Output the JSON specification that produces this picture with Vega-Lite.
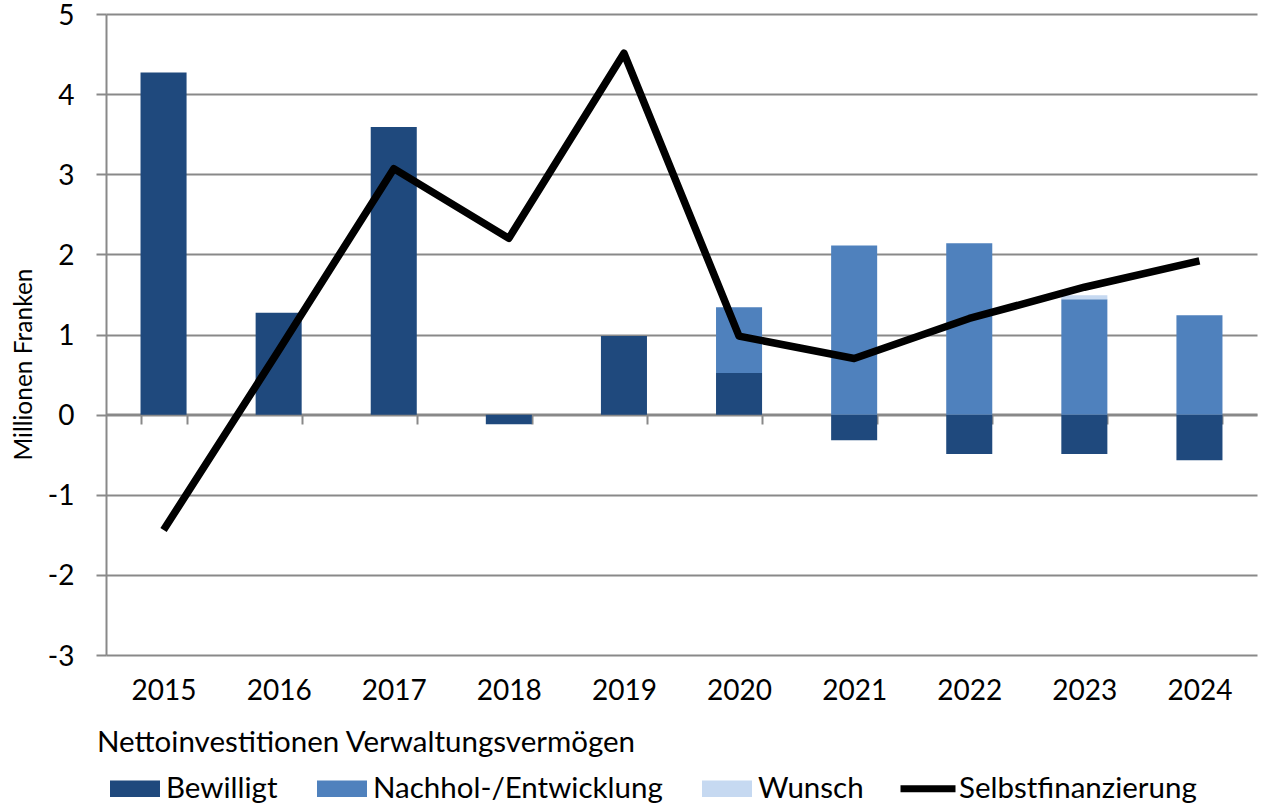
{
  "$schema": "https://vega.github.io/schema/vega-lite/v6.json",
  "width": 1151,
  "height": 641,
  "autosize": {"type": "none"},
  "padding": {"left": 106, "top": 14, "right": 17, "bottom": 152},
  "background": "white",
  "config": {"font": "Lato", "view": {"stroke": null}},
  "data": {
    "values": [
      {"year": "2015", "series": "Bewilligt", "value": 4.27},
      {"year": "2016", "series": "Bewilligt", "value": 1.27},
      {"year": "2017", "series": "Bewilligt", "value": 3.59},
      {"year": "2018", "series": "Bewilligt", "value": -0.12},
      {"year": "2019", "series": "Bewilligt", "value": 0.98},
      {"year": "2020", "series": "Bewilligt", "value": 0.52},
      {"year": "2021", "series": "Bewilligt", "value": -0.32},
      {"year": "2022", "series": "Bewilligt", "value": -0.49},
      {"year": "2023", "series": "Bewilligt", "value": -0.49},
      {"year": "2024", "series": "Bewilligt", "value": -0.57},
      {"year": "2020", "series": "Nachhol-/Entwicklung", "value": 0.82},
      {"year": "2021", "series": "Nachhol-/Entwicklung", "value": 2.11},
      {"year": "2022", "series": "Nachhol-/Entwicklung", "value": 2.14},
      {"year": "2023", "series": "Nachhol-/Entwicklung", "value": 1.44},
      {"year": "2024", "series": "Nachhol-/Entwicklung", "value": 1.24},
      {"year": "2023", "series": "Wunsch", "value": 0.05},
      {"year": "2015", "series": "Selbstfinanzierung", "value": -1.44},
      {"year": "2016", "series": "Selbstfinanzierung", "value": 0.8},
      {"year": "2017", "series": "Selbstfinanzierung", "value": 3.07},
      {"year": "2018", "series": "Selbstfinanzierung", "value": 2.2},
      {"year": "2019", "series": "Selbstfinanzierung", "value": 4.51},
      {"year": "2020", "series": "Selbstfinanzierung", "value": 0.98},
      {"year": "2021", "series": "Selbstfinanzierung", "value": 0.7},
      {"year": "2022", "series": "Selbstfinanzierung", "value": 1.2},
      {"year": "2023", "series": "Selbstfinanzierung", "value": 1.59},
      {"year": "2024", "series": "Selbstfinanzierung", "value": 1.92}
    ]
  },
  "encoding": {
    "x": {
      "field": "year",
      "type": "ordinal",
      "scale": {"paddingInner": 0.6, "paddingOuter": 0.3},
      "axis": {
        "title": null,
        "labelAngle": 0,
        "offset": -241,
        "tickBand": "extent",
        "tickSize": 10,
        "tickColor": "#898989",
        "tickWidth": 2,
        "domainColor": "#898989",
        "domainWidth": 2,
        "labelFontSize": 28,
        "labelColor": "black",
        "labelPadding": 253,
        "grid": false
      }
    },
    "y": {
      "field": "value",
      "type": "quantitative",
      "stack": "zero",
      "scale": {"domain": [-3, 5], "nice": false, "zero": false},
      "axis": {
        "title": "Millionen Franken",
        "values": [-3, -2, -1, 0, 1, 2, 3, 4, 5],
        "labelExpr": "datum.value < 0 ? '-' + abs(datum.value) : '' + datum.value",
        "grid": true,
        "gridColor": "#898989",
        "gridWidth": 2,
        "domainColor": "#898989",
        "domainWidth": 2,
        "tickColor": "#898989",
        "tickWidth": 2,
        "tickSize": 10,
        "labelFontSize": 28,
        "labelColor": "black",
        "labelPadding": 22,
        "labelOffset": 2,
        "titleFontSize": 24.5,
        "titleFontWeight": "normal",
        "titleColor": "black",
        "titleX": -70,
        "titleY": 350
      }
    }
  },
  "layer": [
    {
      "transform": [{"filter": "datum.series !== 'Selbstfinanzierung'"}],
      "mark": {"type": "bar"},
      "encoding": {
        "order": {"field": "series", "sort": "ascending"},
        "color": {
          "field": "series",
          "type": "nominal",
          "scale": {
            "domain": ["Bewilligt", "Nachhol-/Entwicklung", "Wunsch", "Selbstfinanzierung"],
            "range": ["#1F497D", "#4F81BD", "#C6D9F1", "#000000"]
          },
          "legend": {
            "orient": "none",
            "legendX": -9,
            "legendY": 715,
            "direction": "horizontal",
            "title": "Nettoinvestitionen Verwaltungsvermögen",
            "titleFontSize": 29.5,
            "titleFontWeight": "normal",
            "titleColor": "black",
            "titleLimit": 900,
            "titlePadding": 5,
            "labelFontSize": 29.5,
            "labelColor": "black",
            "labelLimit": 500,
            "labelOffset": 6,
            "columnPadding": 26,
            "symbolSize": 2500,
            "symbolOffset": 13,
            "symbolStrokeWidth": 0,
            "encode": {
              "symbols": {
                "update": {
                  "shape": {"signal": "datum.value === 'Selbstfinanzierung' ? 'M-1.1,-0.14H1.1V0.14H-1.1Z' : 'M-1,-0.33H1V0.33H-1Z'"},
                  "fill": {"signal": "scale('color', datum.value)"},
                  "opacity": {"value": 1},
                  "strokeWidth": {"value": 0}
                }
              }
            }
          }
        }
      }
    },
    {
      "transform": [{"filter": "datum.series === 'Selbstfinanzierung'"}],
      "mark": {"type": "line", "strokeWidth": 7.5, "strokeJoin": "round", "strokeCap": "butt"},
      "encoding": {
        "color": {"field": "series", "type": "nominal"}
      }
    }
  ]
}
